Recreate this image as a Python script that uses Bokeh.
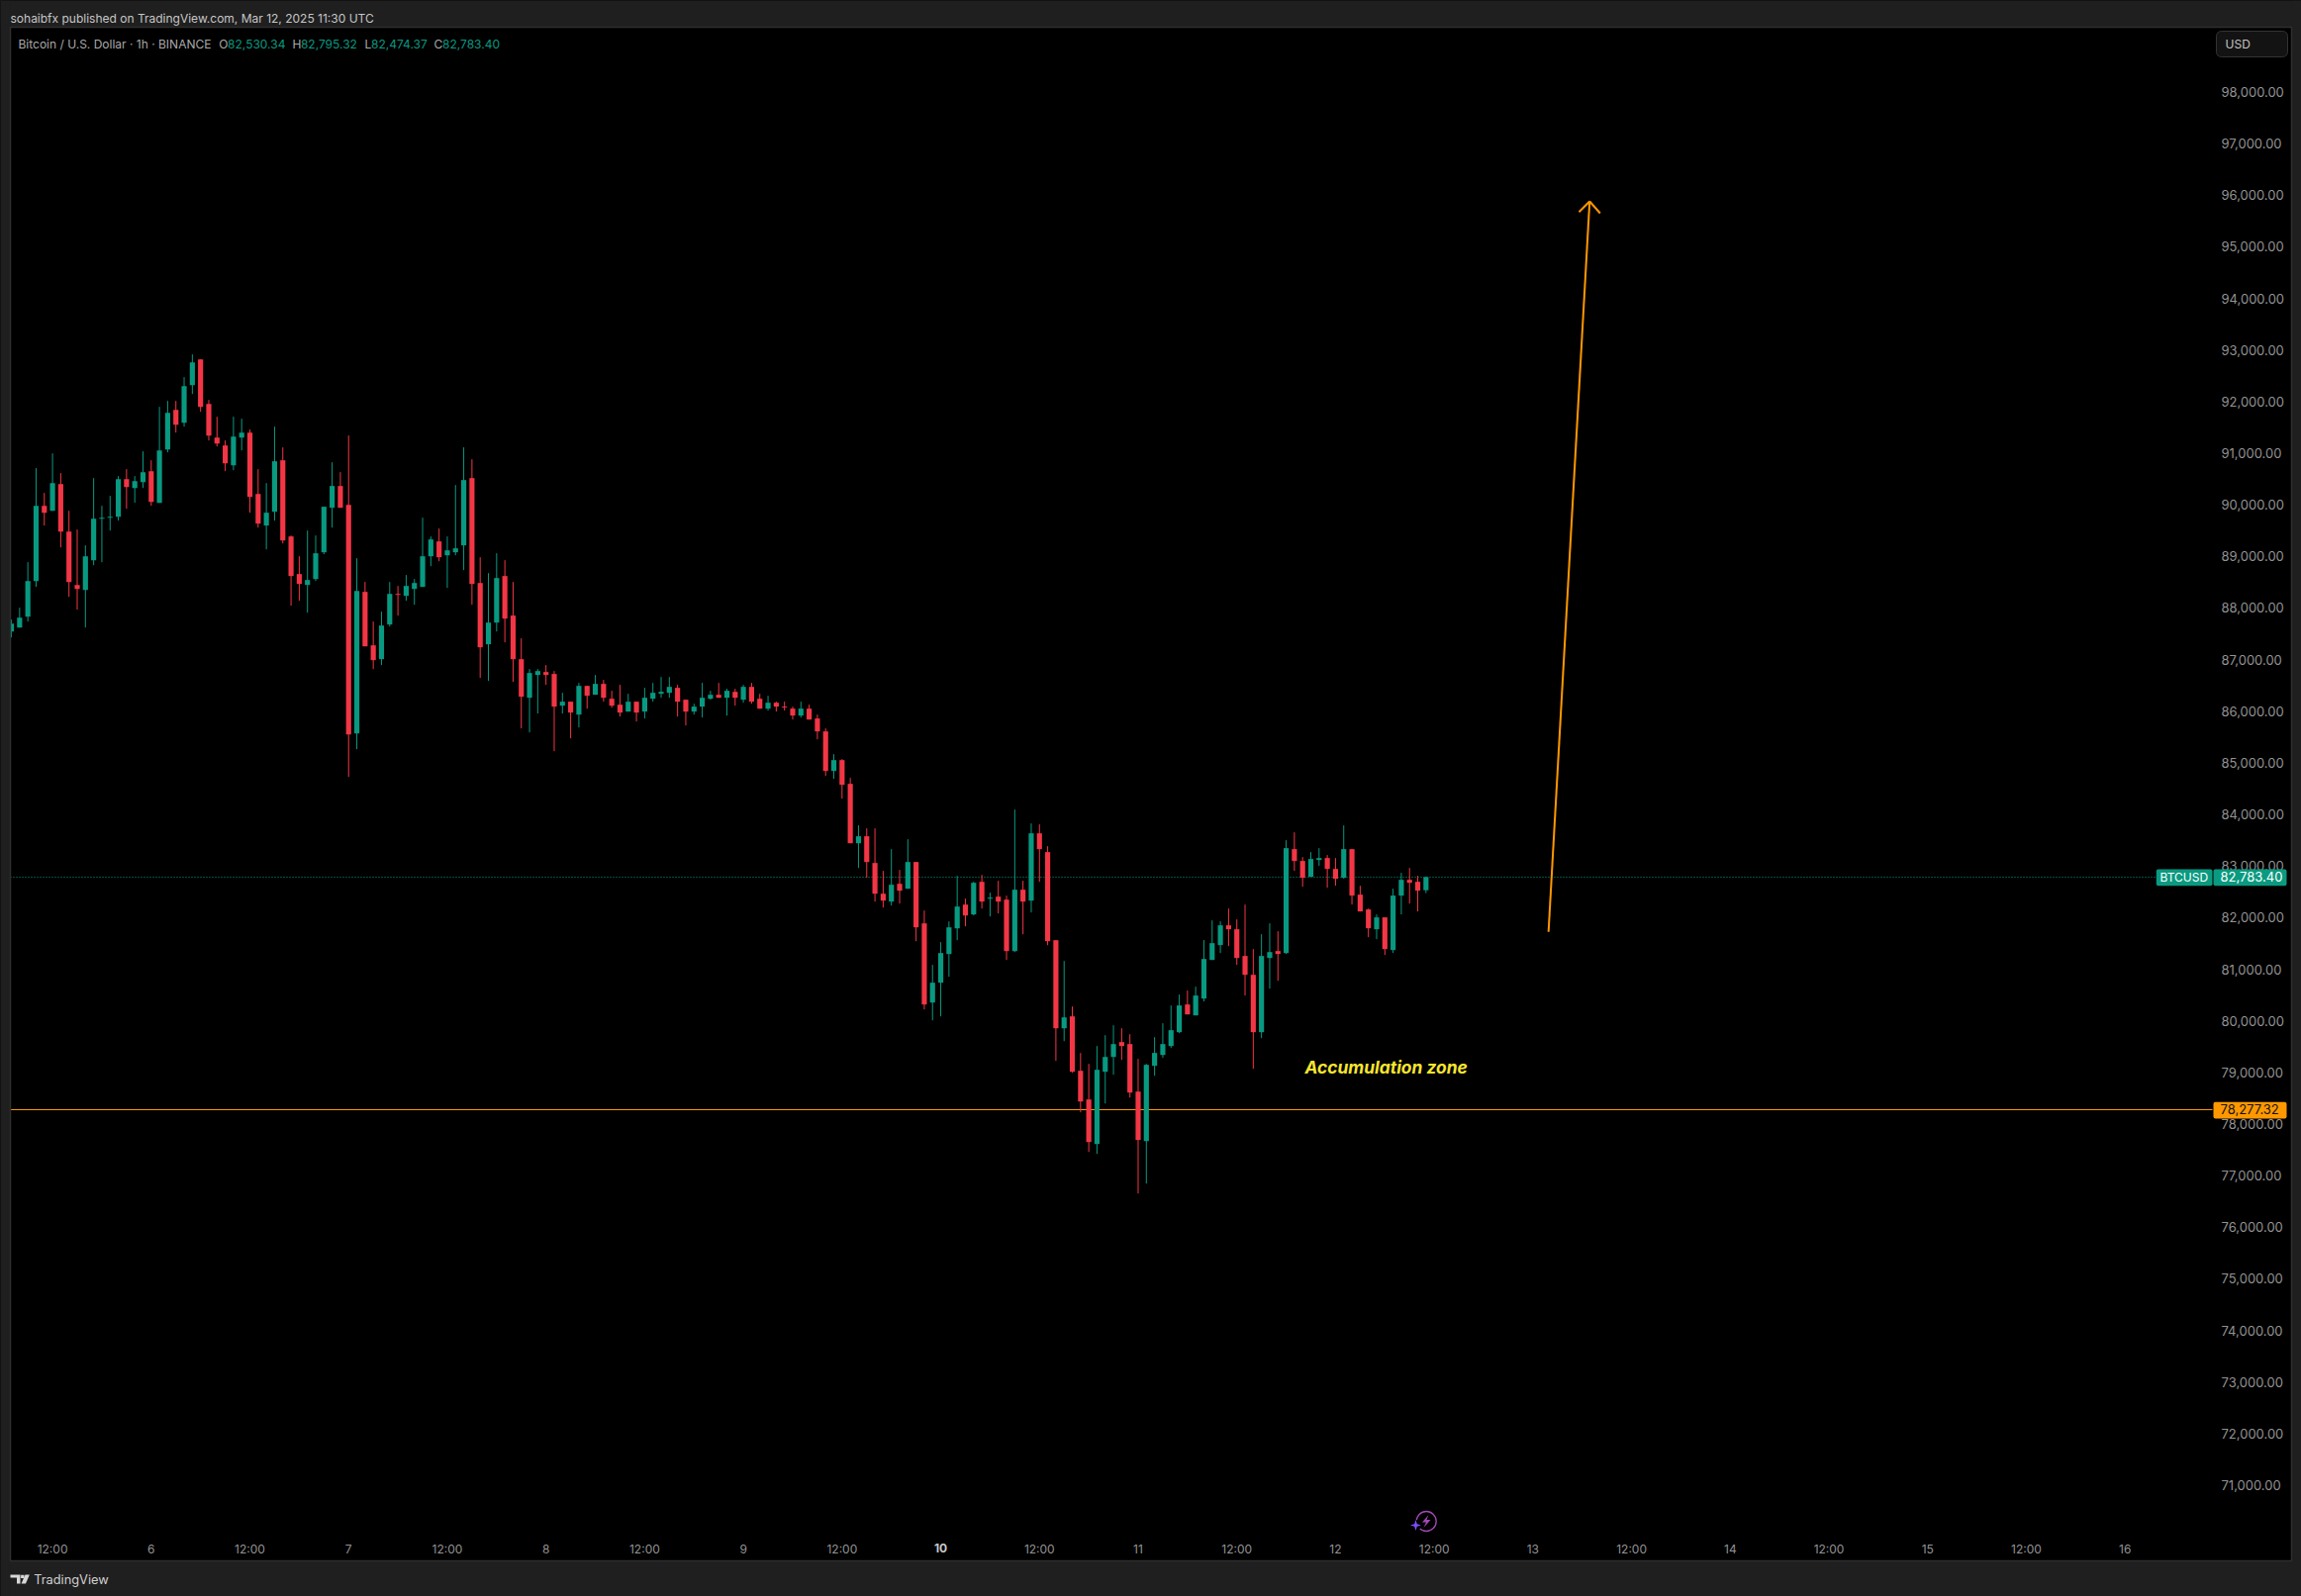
from bokeh.plotting import figure
from bokeh.embed import file_html
from bokeh.resources import INLINE
from bokeh.models import (ColumnDataSource, FixedTicker, NumeralTickFormatter, Label, BoxAnnotation,
                          PolyAnnotation)

hours = list(range(-17, 156))

opens = [
87545,87621,87832,88523,89980,89884,90402,89482,88446,88350,
88926,89731,89750,89769,90498,90325,90440,90651,90038,91073,
91840,91591,92320,92818,91955,91303,91150,90766,91303,91399,
90210,89597,89865,90862,89386,88657,88446,88561,89079,89942,
90364,89999,85570,88312,87276,87008,87679,88273,88235,88369,
88408,89002,89290,89021,89079,89213,90517,88484,87296,87717,
88619,87852,87008,86260,86701,86759,86721,86107,86184,85934,
86490,86318,86529,86241,86126,85992,86184,85992,86241,86337,
86356,86452,86222,85992,86088,86241,86318,86260,86375,86222,
86471,86241,86049,86164,86088,86049,85915,86049,85858,85608,
84841,85052,84592,83441,83576,83058,82463,82310,82655,82559,
83077,81888,80354,80738,81294,81792,82252,82061,82693,82367,
82406,82348,81351,82540,82329,83633,83269,81562,79855,80086,
79031,78475,77612,79012,79299,79587,79549,78628,77669,79127,
79338,79511,79779,80316,80105,80431,81179,81467,81850,81774,
81256,80891,79779,81217,81352,81313,83327,83097,82790,83116,
83154,82943,82771,83327,82445,82157,81774,82004,81371,82426,
82732,82694,82530.34]

closes = [
87698,87813,88523,89980,89846,90421,89482,88504,88369,89002,
89731,89750,89769,90498,90344,90460,90632,90057,91054,91783,
91553,92300,92761,91898,91342,91188,90805,91322,91399,90153,
89635,89846,90843,89309,88619,88465,88542,89060,89961,90364,
89942,85550,88331,87257,86989,87660,88273,88254,88427,88484,
89002,89328,88983,89117,89156,90479,88465,87238,87717,88580,
87794,87008,86280,86740,86778,86701,86088,86184,85973,86490,
86299,86529,86260,86107,85973,86184,85973,86260,86356,86375,
86471,86184,85992,86088,86260,86318,86260,86395,86260,86471,
86184,86049,86164,86088,86069,85915,86049,85838,85608,84841,
85052,84573,83441,83576,83077,82463,82329,82636,82521,83077,
81811,80316,80738,81313,81811,82214,82041,82674,82310,82387,
82310,81351,82540,82310,83633,83326,81543,79855,80066,79012,
78436,77650,79050,79299,79549,79510,78609,77689,79146,79377,
79549,79818,80297,80124,80489,81198,81505,81850,81774,81217,
80891,79779,81256,81332,81294,83346,83097,82771,83135,83154,
82943,82752,83327,82426,82119,81793,82004,81390,82426,82732,
82675,82521,82783.40]

highs = [
87775,88005,88887,90709,90229,90996,90613,89884,89520,89213,
90517,89980,90172,90555,90690,90555,91035,90862,91898,92013,
92013,92473,92914,92818,92032,91706,91246,91706,91668,91457,
90690,90421,91514,91112,89405,89002,89501,89405,89961,90824,
90632,91342,88964,88504,87737,87928,88504,88427,88638,88561,
89750,89386,89539,89386,90383,91112,90881,88983,88676,89060,
88926,88504,87411,86817,86817,86893,86778,86356,86184,86548,
86490,86701,86606,86395,86510,86337,86184,86452,86548,86663,
86663,86510,86222,86145,86548,86395,86548,86433,86433,86510,
86548,86337,86299,86184,86184,86088,86184,86126,85934,85666,
85167,85071,84707,83787,83729,83729,82904,83326,82924,83518,
83077,82137,81083,81524,81926,82809,82367,82693,82828,82483,
82713,82425,84093,82713,83825,83806,83384,81562,81159,80277,
79376,79165,79510,79721,79913,79855,79740,79261,79165,79683,
79952,80297,80508,80585,80661,81563,81946,81927,82176,81965,
82253,81390,81678,81889,81735,83499,83653,83173,83269,83346,
83212,83154,83787,83327,82617,82176,82061,82004,82560,82867,
82962,82809,82795.32]

lows = [
87430,87621,87737,88408,89597,89884,89175,88216,87967,87621,
88830,88887,89501,89693,89923,90038,90325,89980,90038,91016,
91399,91514,92147,91802,91246,91131,90651,90670,91054,89846,
89558,89136,89693,89251,88043,88139,87909,88523,89041,89558,
89942,84726,85263,87257,86816,86893,87641,87852,88139,88063,
88408,88810,88906,88389,89021,88734,88063,86644,86586,87545,
87334,86567,85666,85589,85954,86510,85225,85954,85474,85685,
86049,86318,86184,86069,85896,85992,85800,85858,86184,86260,
86260,85896,85723,85934,85877,86222,86260,85915,86107,86164,
86145,86049,86011,85992,86011,85838,85877,85838,85455,84746,
84688,84304,83441,82962,82770,82310,82195,82233,82272,82559,
81543,80220,80009,80086,80853,81562,81831,82041,82176,82022,
82080,81179,81332,81677,82099,82693,81466,79223,79606,78992,
78226,77458,77420,78398,78954,79242,78513,76653,76845,78935,
79281,79472,79760,80124,80105,80374,81179,81313,81448,81083,
80489,79070,79664,80623,80776,81294,82905,82598,82790,83001,
82579,82617,82752,82253,82119,81620,81582,81275,81313,82061,
82272,82119,82474.37]

last_price = 82783.40
support_level = 78277.32
arrow_tail = (169.9, 81723)
arrow_tip = (174.9, 95880)

price_ticks = list(range(71000, 99000, 1000))
time_ticks = [-12, 0, 12, 24, 36, 48, 60, 72, 84, 108, 120, 132, 144, 156, 168, 180, 192, 204, 216, 228, 240]
time_labels = ["12:00", "6", "12:00", "7", "12:00", "8", "12:00", "9", "12:00", "12:00", "11", "12:00",
               "12", "12:00", "13", "12:00", "14", "12:00", "15", "12:00", "16"]
bold_day_tick, bold_day_label = 96, "10"

GREEN, RED, ORANGE = "#089981", "#F23645", "#FF9800"
CHROME, EDGE = "#1F1F1F", "#2E2E2E"
FONT = "Inter"

# the plotting frame fills the canvas; pane edges are page pixels
W, H = 2325, 1613
L, R, T, B = 10, 2235, 27, 1548
x0, x1 = -18.327, 261.456
y0, y1 = 68843.3, 99772.3
def fx(px): return x0 + px * (x1 - x0) / W
def fy(py): return y1 - py * (y1 - y0) / H

p = figure(width=W, height=H, output_backend="svg", toolbar_location=None,
           x_range=(x0, x1), y_range=(y0, y1), y_axis_location="right",
           background_fill_color="#000000", border_fill_color="#000000",
           min_border=0)
p.outline_line_color = None
p.grid.visible = False

for ax in (p.xaxis[0], p.yaxis[0]):
    ax.axis_line_color = None
    ax.major_tick_line_color = None
    ax.minor_tick_line_color = None
    ax.major_label_text_font = FONT
    ax.major_label_text_color = "#929292"
p.yaxis[0].major_label_text_font_size = "13px"
p.xaxis[0].major_label_text_font_size = "12px"
p.yaxis[0].ticker = FixedTicker(ticks=price_ticks)
p.yaxis[0].formatter = NumeralTickFormatter(format="0,0.00")
p.yaxis[0].major_label_standoff = 3
p.yaxis[0].fixed_location = fx(R)
p.xaxis[0].ticker = FixedTicker(ticks=time_ticks)
p.xaxis[0].major_label_overrides = dict(zip(time_ticks, time_labels))
p.xaxis[0].major_label_standoff = 3
p.xaxis[0].fixed_location = fy(B)

p.segment([fx(L)], [support_level], [fx(R)], [support_level], line_color=ORANGE, line_width=1)
p.segment([fx(L)], [last_price], [fx(2178)], [last_price], line_color=GREEN, line_width=1, line_dash="1 2")

colors = [GREEN if c >= o else RED for o, c in zip(opens, closes)]
src = ColumnDataSource(dict(t=hours, o=opens, h=highs, l=lows, c=closes, color=colors))
p.segment("t", "h", "t", "l", source=src, line_color="color", line_width=1)
p.vbar("t", top="o", bottom="c", width=0.62, source=src, fill_color="color", line_color="color", line_width=0)

# hand-drawn target arrow
tipx, tipy = arrow_tip
arm_x = [fx(1595), fx(1616.3)]
arm_y = [fy(213.7), fy(215)]
p.segment([arrow_tail[0], tipx, tipx], [arrow_tail[1], tipy, tipy], [tipx, arm_x[0], arm_x[1]], [tipy, arm_y[0], arm_y[1]],
          line_color=ORANGE, line_width=2)

def box(l, r, t, b, fill, line=None, radius=0, lw=1):
    p.add_layout(BoxAnnotation(left=fx(l), right=fx(r), top=fy(t), bottom=fy(b), fill_color=fill, fill_alpha=1 if fill else 0,
                               line_color=line, line_width=lw, line_alpha=1 if line else 0, border_radius=radius))

def text(px, py, s, color, size=12, style="normal", align="left", font=FONT):
    p.add_layout(Label(x=fx(px), y=fy(py), text=s, text_color=color, text_font=font, text_font_size=f"{size}px",
                       text_font_style=style, text_align=align, text_baseline="middle"))

def poly(xs, ys, fill, line=None, lw=1):
    p.add_layout(PolyAnnotation(xs=[fx(v) for v in xs], ys=[fy(v) for v in ys], fill_color=fill, fill_alpha=1,
                                line_color=line, line_alpha=1 if line else 0, line_width=lw))

# window chrome around the chart
box(0, W, 0, T, CHROME)
box(0, W, 1577, H, CHROME)
box(0, L, 0, H, CHROME)
box(2315, W, 0, H, CHROME)
box(L, 2315, T, 1577, None, EDGE, lw=1.5)

# header
text(10, 17.7, "sohaibfx published on TradingView.com, Mar 12, 2025 11:30 UTC", "#C6C6C6", 12)
text(18, 44.3, "Bitcoin / U.S. Dollar \u00b7 1h \u00b7 BINANCE", "#A8A8A8", 12)
for px, s in [(220.7, "O"), (295, "H"), (368, "L"), (438, "C")]:
    text(px, 44.3, s, "#A8A8A8", 12)
for px, v in [(229.6, opens[-1]), (303.4, highs[-1]), (374.5, lows[-1]), (446.5, closes[-1])]:
    text(px, 44.3, f"{v:,.2f}", GREEN, 12)

# currency button
box(2239, 2311, 31, 57, "#131313", "#333333", radius=5)
text(2248, 43.6, "USD", "#C4C4C4", 12)

# price tags
box(2178.3, 2235, 878, 894.7, "#0A9A80", radius=2)
box(2236, 2310, 878, 894.7, "#0A9A80", radius=2)
text(2182, 886.3, "BTCUSD", "#FFFFFF", 12)
text(2243, 885.5, f"{last_price:,.2f}", "#FFFFFF", 13)
box(2236, 2310, 1113.3, 1130, ORANGE, radius=2)
text(2243, 1120.8, f"{support_level:,.2f}", "#131313", 13)

# annotation text
text(1318, 1077.7, "Accumulation zone", "#F7E62E", 17.4, "bold italic")

# bold day label on the time scale
p.add_layout(Label(x=bold_day_tick, y=fy(1564), text=bold_day_label, text_color="#C8C8C8", text_font=FONT,
                   text_font_size="12px", text_font_style="bold", text_align="center", text_baseline="middle"))

# lightning badge
p.scatter([fx(1440.7)], [fy(1537)], marker="circle", size=20, fill_alpha=0, line_color="#A347B8", line_width=1.3)
poly([1443, 1436.5, 1440.5, 1438, 1445, 1441], [1530.5, 1538, 1538, 1543.5, 1535.5, 1535.5], "#A347B8")
p.scatter([fx(1430)], [fy(1541)], marker="circle", size=11, fill_color="#000000", line_alpha=0)
poly([1430, 1431.3, 1435.5, 1431.3, 1430, 1428.7, 1424.5, 1428.7],
     [1535.5, 1539.7, 1541, 1542.3, 1546.5, 1542.3, 1541, 1539.7], "#7C4DFF")

# footer
poly([10, 20, 20, 16.5, 16.5, 10], [1591, 1591, 1600, 1600, 1594, 1594], "#D6D6D6")
poly([20.6, 24, 24, 20.6], [1591.2, 1591.2, 1594.4, 1594.4], "#D6D6D6")
poly([25, 29.3, 25.5, 21], [1591, 1591, 1600, 1600], "#D6D6D6")
text(33.7, 1596, "TradingView", "#D0D0D0", 12.8)

html = file_html(p, INLINE).replace("<head>", "<head><style>html,body{background:#1F1F1F;overflow:hidden}</style>", 1)
open("out.html", "w").write(html)
